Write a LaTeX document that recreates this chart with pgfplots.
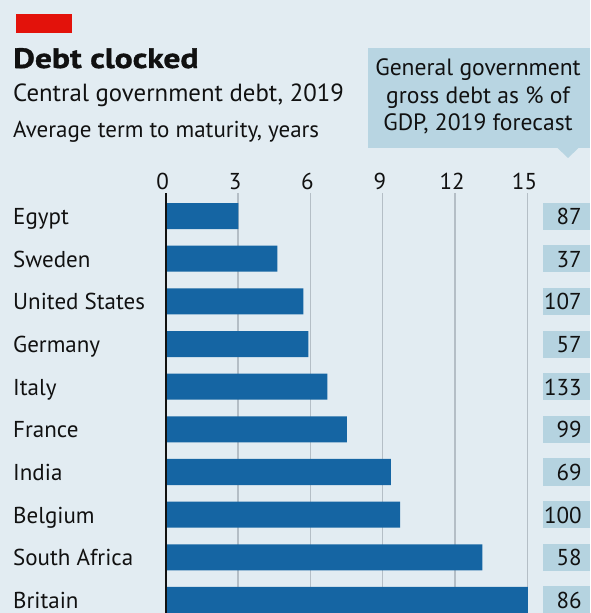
\documentclass[border=0pt]{standalone}
\usepackage{pgfplots}
\pgfplotsset{compat=1.18}
\usepackage{fontspec}
\setmainfont{PT Sans}
\newfontfamily\titlefont[FakeStretch=1.2, FakeBold=1.2]{PT Sans Bold}
\definecolor{bgc}{HTML}{E2ECF2}
\definecolor{econred}{HTML}{E3120B}
\definecolor{hdrbox}{HTML}{B8D5E2}
\definecolor{valbox}{HTML}{B5D3E0}
\definecolor{barc}{HTML}{1565A3}
\definecolor{gridc}{HTML}{B4BEC6}
\definecolor{textc}{HTML}{111111}
\newcommand\lab[2]{%
  \node[anchor=base west, inner sep=0, xshift=-152.7pt, yshift=-8.5pt, text=textc, font=\fontsize{23}{23}\selectfont] at (axis cs:0,#1) {#2};}
\newcommand\val[2]{%
  \node[fill=valbox, minimum width=47pt, minimum height=27pt, anchor=west, inner sep=0] at (axis cs:15.64,#1) {};
  \node[anchor=base east, inner sep=0, xshift=39pt, yshift=-8.5pt, text=textc, font=\fontsize{23}{23}\selectfont] at (axis cs:15.64,#1) {#2};}
\begin{document}
\begin{tikzpicture}[x=1pt,y=1pt]
\useasboundingbox (0,0) rectangle (590,613);
\fill[bgc] (0,0) rectangle (590,613);
\fill[econred] (16,580) rectangle (72,599);
\node[anchor=base west, inner sep=0, text=textc, font=\titlefont\fontsize{28}{28}\selectfont] at (13,545) {Debt clocked};
\node[anchor=base west, inner sep=0, text=textc, font=\fontsize{24.8}{24.8}\selectfont] at (13,511) {Central government debt, 2019};
\node[anchor=base west, inner sep=0, text=textc, font=\fontsize{23}{23}\selectfont] at (13,475) {Average term to maturity, years};
\fill[hdrbox] (368,465) rectangle (590,565);
\fill[hdrbox] (557,465.5) -- (568,455) -- (579,465.5) -- cycle;
\node[anchor=base, inner sep=0, text=textc, font=\fontsize{23.6}{23.6}\selectfont] at (478,537) {General government};
\node[anchor=base, inner sep=0, text=textc, font=\fontsize{23.6}{23.6}\selectfont] at (478,509.5) {gross debt as \% of};
\node[anchor=base, inner sep=0, text=textc, font=\fontsize{23.6}{23.6}\selectfont] at (478,482) {GDP, 2019 forecast};
\begin{axis}[
  at={(165.7pt,0pt)}, anchor=south west,
  scale only axis, width=361.8pt, height=420pt,
  xmin=0, xmax=15, ymin=-0.305, ymax=9.54,
  axis line style={draw=none},
  xtick={0,3,6,9,12,15}, xticklabel pos=upper,
  xmajorgrids, major grid style={draw=gridc, line width=1.3pt},
  ytick=\empty,
  tick style={draw=none},
  xticklabel style={font=\fontsize{23}{23}\selectfont, text=textc, xshift=-3pt},
  /pgf/number format/assume math mode=true,
  clip=false,
]
\addplot[xbar, bar width=26pt, fill=barc, draw=none] coordinates {
  (15.02,0) (13.13,1) (9.72,2) (9.34,3) (7.51,4)
  (6.70,5) (5.92,6) (5.71,7) (4.63,8) (3.01,9)};
\draw[textc, line width=2pt] (axis cs:0,-0.305) -- (axis cs:0,9.54);
\lab{9}{Egypt}
\lab{8}{Sweden}
\lab{7}{United States}
\lab{6}{Germany}
\lab{5}{Italy}
\lab{4}{France}
\lab{3}{India}
\lab{2}{Belgium}
\lab{1}{South Africa}
\lab{0}{Britain}
\val{9}{87}
\val{8}{37}
\val{7}{107}
\val{6}{57}
\val{5}{133}
\val{4}{99}
\val{3}{69}
\val{2}{100}
\val{1}{58}
\val{0}{86}
\end{axis}
\end{tikzpicture}
\end{document}
